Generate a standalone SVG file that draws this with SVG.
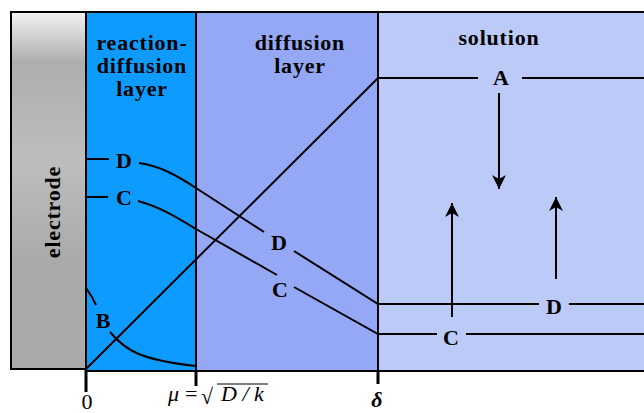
<svg xmlns="http://www.w3.org/2000/svg" width="644" height="413" viewBox="0 0 644 413">
<defs>
<linearGradient id="eg" x1="0" y1="0" x2="0" y2="1">
<stop offset="0" stop-color="#f2f2f2"/>
<stop offset="0.14" stop-color="#aeaeae"/>
<stop offset="0.42" stop-color="#bdbdbd"/>
<stop offset="0.7" stop-color="#aaaaaa"/>
<stop offset="1" stop-color="#aaaaaa"/>
</linearGradient>
<marker id="ah" markerUnits="userSpaceOnUse" markerWidth="16" markerHeight="16" viewBox="-15 -8 16 16" refX="0" refY="0" orient="auto">
<path d="M0,0 L-14,-7 L-10,0 L-14,7 Z" fill="#000"/>
</marker>
<style>
.lbl{font-family:"Liberation Serif","Times New Roman",serif;font-weight:bold;font-size:22px;fill:#000;text-anchor:middle}
.w{letter-spacing:0.8px}
.ln{fill:none;stroke:#000;stroke-width:2}
.ax{font-family:"Liberation Serif","Times New Roman",serif;font-size:22px;fill:#000}
.tick{stroke:#000;stroke-width:3}
</style>
</defs>
<rect width="644" height="413" fill="#fff"/>
<g id="electrode">
<rect x="11" y="12" width="75" height="357" fill="url(#eg)" stroke="#000" stroke-width="2"/>
<text class="lbl w" transform="translate(60,212) rotate(-90)">electrode</text>
</g>
<g id="solution">
<rect x="378" y="12" width="270" height="359" fill="#bccaf7" stroke="#000" stroke-width="2"/>
<text class="lbl w" x="499" y="45">solution</text>
</g>
<g id="diffusion-layer">
<rect x="196" y="12" width="182" height="359" fill="#94a8f5" stroke="#000" stroke-width="2"/>
<text class="lbl w" x="300" y="50">diffusion</text>
<text class="lbl w" x="300" y="73">layer</text>
</g>
<g id="reaction-diffusion-layer">
<rect x="86" y="12" width="110" height="359" fill="#0e9bff" stroke="#000" stroke-width="2"/>
<text class="lbl w" x="142" y="50">reaction-</text>
<text class="lbl w" x="142" y="73">diffusion</text>
<text class="lbl w" x="142" y="96">layer</text>
</g>
<g id="connectors">
<path class="ln" d="M86,369 L378,78 L478,78 M522,78 L646,78"/>
<path class="ln" d="M87,159 L109,159 M139,163 C160,166 176,175 196,188 L264,232 M294,251 L378,304 L539,304 M569,304 L646,304"/>
<path class="ln" d="M85,197 L108,197 M138,201 C158,206 176,217 196,229 L277,275 M294,287 L378,334 L437,334 M466,334 L646,334"/>
<path class="ln" d="M86,288 Q92,296 96,305 M110,332 C125,350 140,360 196,366"/>
<path class="ln" d="M499,93 L499,189" marker-end="url(#ah)"/>
<path class="ln" d="M452,317 L452,203" marker-end="url(#ah)"/>
<path class="ln" d="M556,279 L556,197" marker-end="url(#ah)"/>
</g>
<g id="curve-labels">
<text class="lbl" x="501" y="85">A</text>
<text class="lbl" x="103" y="328">B</text>
<text class="lbl" x="124" y="168">D</text>
<text class="lbl" x="124" y="205">C</text>
<text class="lbl" x="279" y="250">D</text>
<text class="lbl" x="280" y="297">C</text>
<text class="lbl" x="554" y="314">D</text>
<text class="lbl" x="451" y="345">C</text>
</g>
<g id="axis">
<line class="tick" x1="86" y1="370" x2="86" y2="392"/>
<line class="tick" x1="196" y1="370" x2="196" y2="386"/>
<line class="tick" x1="378" y1="370" x2="378" y2="384"/>
<text class="ax" x="87" y="409" text-anchor="middle">0</text>
<text class="ax" x="168" y="401" font-style="italic">μ</text>
<text class="ax" x="185" y="401">=</text>
<text class="ax" x="201" y="404" font-size="30">√</text>
<line x1="217" y1="384" x2="268" y2="384" stroke="#000" stroke-width="1.2"/>
<text class="ax" x="221" y="401" font-style="italic">D / k</text>
<text class="ax" x="377" y="407" text-anchor="middle" font-style="italic" font-weight="bold" font-size="24">δ</text>
</g>
</svg>
